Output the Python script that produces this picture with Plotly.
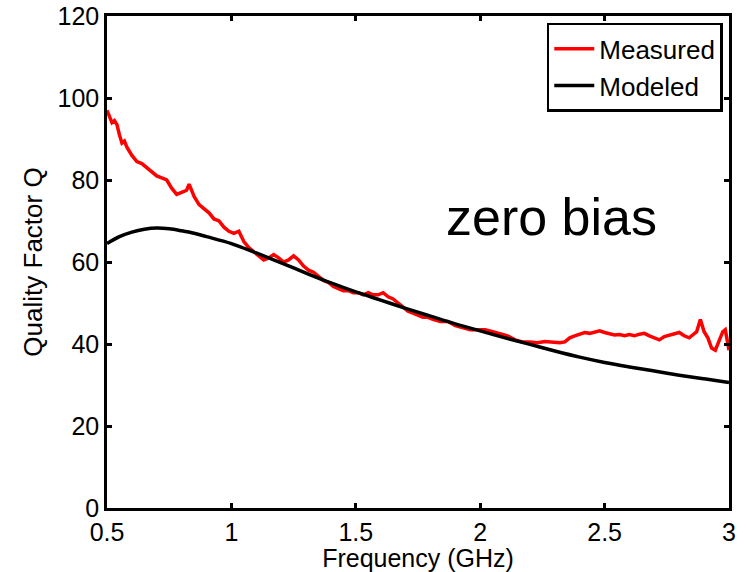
import plotly.graph_objects as go

# Measured quality factor
meas_f = [0.500, 0.510, 0.520, 0.530, 0.540, 0.550, 0.560, 0.570, 0.580, 0.600,
          0.620, 0.640, 0.660, 0.680, 0.700, 0.720, 0.740, 0.760, 0.780, 0.800,
          0.820, 0.830, 0.840, 0.850, 0.870, 0.890, 0.910, 0.930, 0.950, 0.970,
          0.990, 1.010, 1.030, 1.050, 1.070, 1.090, 1.110, 1.130, 1.150, 1.170,
          1.190, 1.210, 1.230, 1.250, 1.270, 1.290, 1.310, 1.330, 1.350, 1.370,
          1.390, 1.410, 1.430, 1.450, 1.470, 1.490, 1.510, 1.530, 1.550, 1.570,
          1.590, 1.610, 1.630, 1.650, 1.670, 1.690, 1.710, 1.730, 1.750, 1.770,
          1.790, 1.810, 1.840, 1.870, 1.900, 1.930, 1.960, 1.990, 2.020, 2.050,
          2.080, 2.110, 2.140, 2.170, 2.200, 2.230, 2.260, 2.290, 2.320, 2.340,
          2.360, 2.380, 2.400, 2.420, 2.440, 2.460, 2.480, 2.500, 2.520, 2.540,
          2.560, 2.580, 2.600, 2.620, 2.640, 2.660, 2.680, 2.700, 2.720, 2.740,
          2.760, 2.780, 2.800, 2.820, 2.840, 2.860, 2.870, 2.885, 2.900, 2.915,
          2.930, 2.945, 2.960, 2.975, 2.985, 2.995, 3.000]
meas_q = [97.0, 95.5, 94.0, 94.5, 93.5, 91.0, 89.0, 89.5, 88.0, 86.0,
          84.5, 84.0, 83.0, 82.0, 81.0, 80.5, 80.0, 78.0, 76.5, 77.0,
          77.5, 79.0, 77.5, 76.0, 74.0, 73.0, 72.0, 70.5, 70.0, 68.5,
          67.5, 67.0, 67.5, 65.0, 63.5, 62.5, 61.5, 60.5, 61.0, 61.8,
          61.0, 60.0, 60.5, 61.5, 60.5, 59.0, 58.0, 57.5, 56.5, 55.5,
          55.0, 54.0, 53.5, 53.0, 53.0, 52.5, 52.5, 52.0, 52.5, 52.0,
          52.0, 52.5, 51.5, 51.0, 50.0, 49.0, 48.0, 47.5, 47.0, 46.5,
          46.5, 46.0, 45.5, 45.5, 44.5, 44.0, 43.5, 43.5, 43.5, 43.0,
          42.5, 42.0, 41.0, 40.5, 40.5, 40.3, 40.6, 40.5, 40.3, 40.5,
          41.5, 42.0, 42.3, 42.8, 42.6, 43.0, 43.2, 42.8, 42.5, 42.2,
          42.3, 42.0, 42.3, 42.0, 42.4, 42.6, 42.0, 41.5, 41.0, 41.8,
          42.2, 42.5, 42.8, 42.0, 41.5, 42.5, 43.0, 46.0, 43.0, 41.5,
          39.0, 38.5, 41.0, 43.0, 43.5, 40.0, 38.5]

# Modeled quality factor
model_f = [0.50, 0.55, 0.60, 0.65, 0.70, 0.75, 0.80, 0.85, 0.90, 1.00,
           1.10, 1.20, 1.30, 1.40, 1.50, 1.60, 1.70, 1.80, 1.90, 2.00,
           2.10, 2.20, 2.30, 2.40, 2.50, 2.60, 2.70, 2.80, 2.90, 3.00]
model_q = [64.5, 66.2, 67.3, 68.0, 68.3, 68.1, 67.6, 67.0, 66.2, 64.5,
           62.2, 59.8, 57.3, 54.9, 52.7, 50.7, 48.7, 46.8, 44.9, 43.2,
           41.5, 39.9, 38.3, 36.8, 35.5, 34.4, 33.4, 32.4, 31.5, 30.6]

x_ticks = [0.5, 1, 1.5, 2, 2.5, 3]
x_tick_text = ["0.5", "1", "1.5", "2", "2.5", "3"]
y_ticks = [0, 20, 40, 60, 80, 100, 120]

FONT = "Liberation Sans, Arial, sans-serif"

fig = go.Figure()
fig.add_trace(go.Scatter(x=meas_f, y=meas_q, mode="lines", name="Measured",
                         line=dict(color="#ff0000", width=3.5)))
fig.add_trace(go.Scatter(x=model_f, y=model_q, mode="lines", name="Modeled",
                         line=dict(color="black", width=3.5, shape="spline")))

axis_common = dict(showgrid=False, zeroline=False, showline=True, linecolor="black",
                   linewidth=2.5, mirror="ticks", ticks="inside", ticklen=5,
                   tickwidth=2.5, tickcolor="black", automargin=False,
                   tickfont=dict(family=FONT, size=25, color="black"))

fig.update_xaxes(range=[0.5, 3], tickvals=x_ticks, ticktext=x_tick_text,
                 title=dict(text="Frequency (GHz)", font=dict(family=FONT, size=25, color="black"),
                            standoff=3),
                 **axis_common)
fig.update_yaxes(range=[0, 120], tickvals=y_ticks,
                 title=dict(text="Quality Factor Q", font=dict(family=FONT, size=26, color="black"),
                            standoff=8),
                 **axis_common)

fig.add_annotation(x=0.714, y=0.591, xref="paper", yref="paper", text="zero bias",
                   xanchor="center", yanchor="middle",
                   showarrow=False, font=dict(family=FONT, size=52, color="black"))

fig.update_layout(
    width=746, height=572,
    margin=dict(l=107, r=17, t=16, b=64),
    plot_bgcolor="white", paper_bgcolor="white",
    font=dict(family=FONT, color="black"),
    legend=dict(x=0.990, y=0.986, xanchor="right", yanchor="top",
                bordercolor="black", borderwidth=2.5, bgcolor="white",
                font=dict(family=FONT, size=26, color="black"),
                tracegroupgap=0, itemwidth=40),
)

fig.write_html("out.html")
